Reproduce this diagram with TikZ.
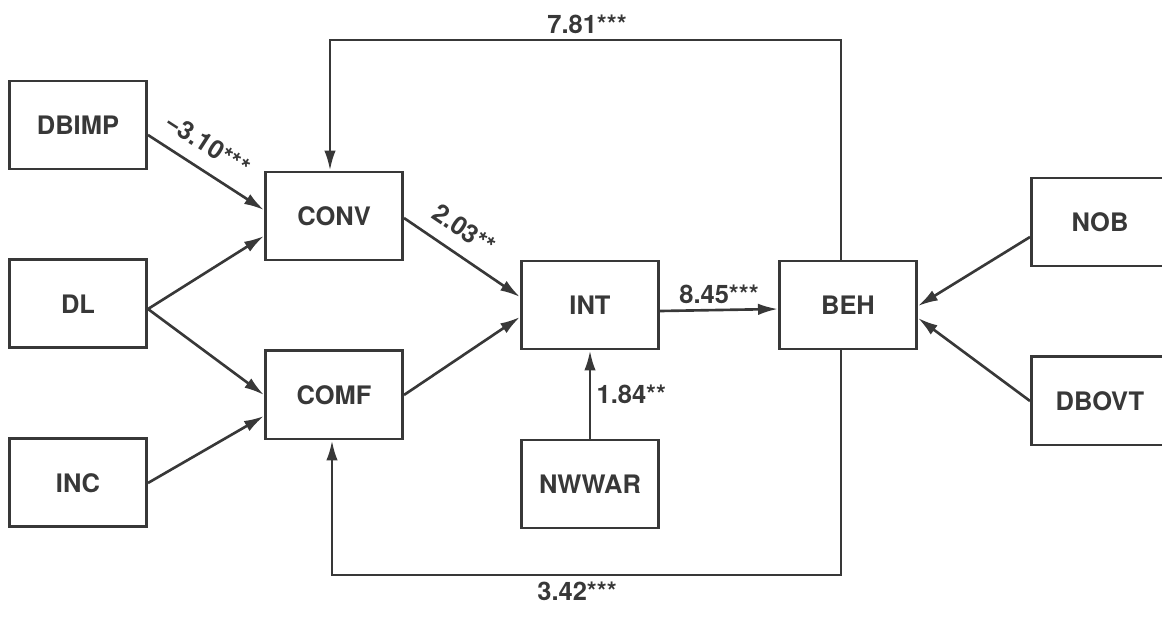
\documentclass[tikz,border=0pt]{standalone}
\usepackage{fontspec}
\setmainfont{TeX Gyre Heros}
\usetikzlibrary{arrows.meta, positioning}
\definecolor{grisTinta}{HTML}{383838}
\colorlet{colLinea}{grisTinta}
\colorlet{colTexto}{grisTinta}
\tikzset{
  cajaVar/.style={
    draw=colLinea, line width=1.7pt,
    minimum width=2.74cm, minimum height=1.76cm, inner sep=0pt,
    align=center, font=\fontsize{14.5}{16}\selectfont\bfseries, text=colTexto
  },
  flecha/.style={-{Latex[length=4mm, width=2.3mm]}, line width=1.5pt, colLinea},
  etiquetaCoef/.style={font=\fontsize{14.5}{16}\selectfont\bfseries, text=colTexto, inner sep=3pt},
}

\begin{document}
\begin{tikzpicture}[node distance=1.76cm]
    \useasboundingbox (0,0) rectangle (23.24,12.34);
    \node[cajaVar] (dbimp) at (1.56,9.84) {DBIMP};
    \node[cajaVar, below=of dbimp] (dl) {DL};
    \node[cajaVar, below=of dl] (inc) {INC};
    \node[cajaVar] (conv) at (6.68,8.02) {CONV};
    \node[cajaVar, below=of conv] (comf) {COMF};
    \node[cajaVar] (int) at (11.80,6.24) {INT};
    \node[cajaVar, below=of int] (nwwar) {NWWAR};
    \node[cajaVar, right=2.36cm of int] (beh) {BEH};
    \node[cajaVar] (nob) at (22.0,7.90) {NOB};
    \node[cajaVar, below=of nob] (dbovt) {DBOVT};
    \coordinate (arriba) at (11.74,11.54);
    \coordinate (abajo) at (11.54,0.84);
    % entradas a CONV y COMF
    \draw[flecha] ([yshift=-2mm]dbimp.east) -- node[etiquetaCoef, sloped, above=5pt, pos=0.4] {\char"2212 3.10***} ([yshift=1.2mm]conv.west);
    \draw[flecha] ([yshift=-1mm]dl.east) -- ([yshift=-4mm]conv.west);
    \draw[flecha] ([yshift=-1mm]dl.east) -- (comf.west);
    \draw[flecha] (inc.east) -- ([yshift=-4.2mm]comf.west);
    % hacia INT y BEH
    \draw[flecha] ([yshift=-0.4mm]conv.east) -- node[etiquetaCoef, sloped, above=5pt, pos=0.4] {2.03**} ([yshift=1.6mm]int.west);
    \draw[flecha] (comf.east) -- ([yshift=-2.4mm]int.west);
    \draw[flecha] (nwwar) -- node[etiquetaCoef, right] {1.84**} (int);
    \draw[flecha] ([yshift=-1.2mm]int.east) -- node[etiquetaCoef, above] {8.45***} ([yshift=-0.8mm]beh.west);
    \draw[flecha] ([yshift=-3mm]nob.west) -- ([yshift=-0.2mm]beh.east);
    \draw[flecha] (dbovt.west) -- ([yshift=-2.6mm]beh.east);
    % retroalimentacion
    \draw[flecha] ([xshift=-1.4mm]beh.north) |- (arriba) node[etiquetaCoef, above] {7.81***} -| ([xshift=-0.8mm]conv.north);
    \draw[flecha] ([xshift=-1.4mm]beh.south) |- (abajo) node[etiquetaCoef, below] {3.42***} -| ([xshift=-0.4mm]comf.south);
  \end{tikzpicture}
\end{document}
